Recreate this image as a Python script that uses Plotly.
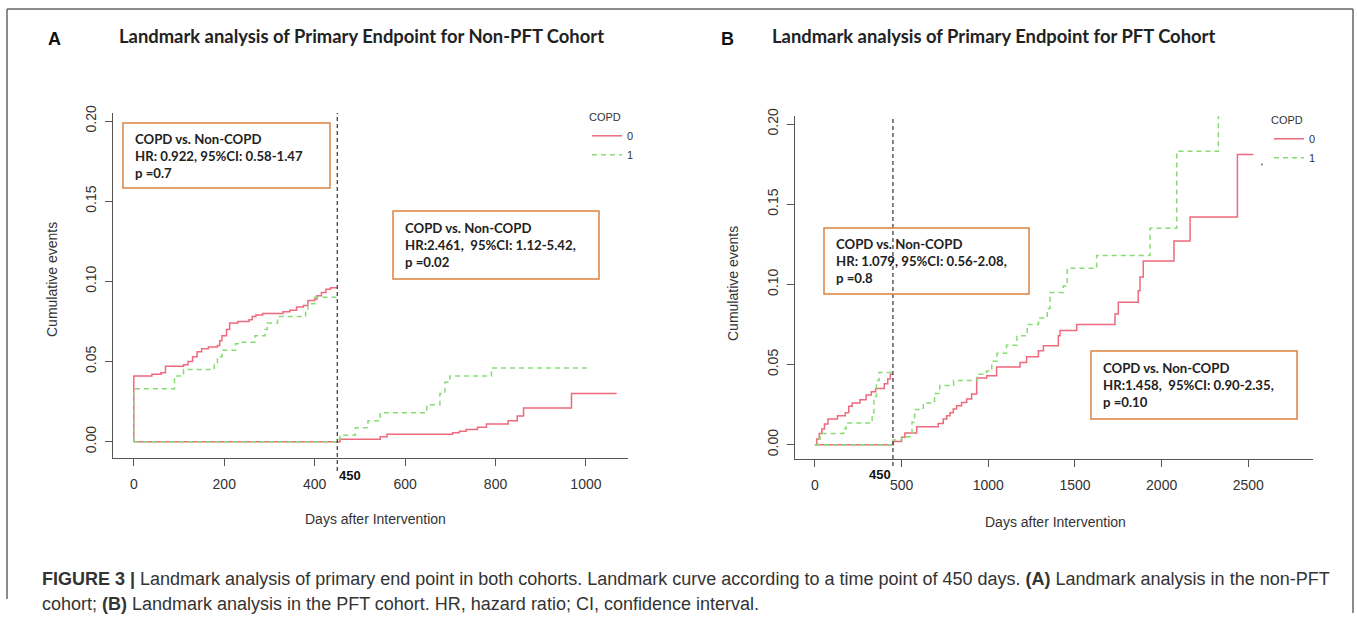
import plotly.graph_objects as go

W, H = 1357, 623
LANDMARK = 450

# ---------------- data ----------------
# Panel A: Non-PFT cohort
a_pre_red_days = [0, 0, 40, 60, 70, 110, 120, 130, 140, 150, 165, 185, 190, 195, 205, 212, 230, 255, 262,
                  270, 285, 330, 345, 360, 375, 385, 400, 405, 415, 425, 435, 450]
a_pre_red_vals = [0, 0.041, 0.042, 0.043, 0.047, 0.048, 0.050, 0.053, 0.056, 0.058, 0.059, 0.060, 0.063,
                  0.066, 0.070, 0.074, 0.075, 0.076, 0.078, 0.079, 0.080, 0.081, 0.082, 0.084, 0.085, 0.088,
                  0.089, 0.091, 0.093, 0.095, 0.096, 0.096]
a_pre_green_days = [0, 0, 90, 110, 178, 185, 195, 225, 240, 268, 290, 295, 318, 380, 385, 400, 450]
a_pre_green_vals = [0, 0.033, 0.041, 0.045, 0.049, 0.053, 0.057, 0.061, 0.062, 0.066, 0.070, 0.074, 0.078,
                    0.082, 0.086, 0.090, 0.090]
a_post_red_days = [0, 456, 545, 560, 705, 720, 735, 760, 780, 828, 848, 862, 968, 1068]
a_post_red_vals = [0, 0.0015, 0.003, 0.0046, 0.0055, 0.0065, 0.0075, 0.009, 0.011, 0.013, 0.016, 0.021,
                   0.030, 0.030]
a_post_green_days = [0, 452, 456, 490, 518, 545, 648, 677, 688, 699, 791, 1005]
a_post_green_vals = [0, 0.0015, 0.004, 0.0087, 0.013, 0.018, 0.023, 0.030, 0.037, 0.041, 0.046, 0.046]

# Panel B: PFT cohort
b_pre_red_days = [0, 10, 25, 40, 55, 75, 130, 175, 195, 215, 260, 295, 325, 350, 400, 420, 435, 450]
b_pre_red_vals = [0, 0.0035, 0.007, 0.0098, 0.013, 0.016, 0.018, 0.020, 0.024, 0.026, 0.028, 0.031, 0.033,
                  0.035, 0.038, 0.041, 0.044, 0.044]
b_pre_green_days = [0, 15, 30, 165, 180, 330, 340, 355, 370, 450]
b_pre_green_vals = [0, 0.0035, 0.007, 0.010, 0.0135, 0.020, 0.030, 0.040, 0.045, 0.045]
b_post_red_days = [0, 452, 500, 519, 587, 711, 740, 760, 779, 798, 817, 846, 875, 904, 933, 991, 1048, 1183,
                   1221, 1289, 1318, 1404, 1414, 1510, 1731, 1750, 1865, 1875, 1894, 2071, 2164, 2437, 2529]
b_post_red_vals = [0, 0.002, 0.0046, 0.0073, 0.0112, 0.0133, 0.016, 0.018, 0.020, 0.0223, 0.0243, 0.0264,
                   0.0285, 0.0316, 0.0416, 0.043, 0.0485, 0.0513, 0.0549, 0.0586, 0.0618, 0.068, 0.0713,
                   0.0749, 0.0816, 0.0889, 0.096, 0.1046, 0.1146, 0.127, 0.142, 0.181, 0.181]
b_post_green_days = [0, 452, 500, 560, 575, 625, 690, 720, 800, 935, 990, 1020, 1050, 1105, 1165, 1225, 1290,
                     1340, 1356, 1432, 1455, 1625, 1933, 2087, 2327]
b_post_green_vals = [0, 0.003, 0.005, 0.014, 0.022, 0.026, 0.032, 0.037, 0.040, 0.044, 0.046, 0.052, 0.057,
                     0.062, 0.068, 0.075, 0.079, 0.085, 0.095, 0.099, 0.110, 0.118, 0.135, 0.183, 0.23]
b_censor_days = [2578]
b_censor_vals = [0.1747]

a_xticks = [0, 200, 400, 600, 800, 1000]
b_xticks = [0, 500, 1000, 1500, 2000, 2500]
yticks = [0.00, 0.05, 0.10, 0.15, 0.20]

titles = ["Landmark analysis of Primary Endpoint for Non-PFT Cohort",
          "Landmark analysis of Primary Endpoint for PFT Cohort"]
panel_letters = ["A", "B"]
box_texts = [
    "COPD vs. Non-COPD<br>HR: 0.922, 95%CI: 0.58-1.47<br>p =0.7",
    "COPD vs. Non-COPD<br>HR:2.461,  95%CI: 1.12-5.42,<br>p =0.02",
    "COPD vs. Non-COPD<br>HR: 1.079, 95%CI: 0.56-2.08,<br>p =0.8",
    "COPD vs. Non-COPD<br>HR:1.458,  95%CI: 0.90-2.35,<br>p =0.10",
]
caption_lines = [
    "<b>FIGURE 3 |</b> Landmark analysis of primary end point in both cohorts. Landmark curve according to a "
    "time point of 450 days. <b>(A)</b> Landmark analysis in the non-PFT",
    "cohort; <b>(B)</b> Landmark analysis in the PFT cohort. HR, hazard ratio; CI, confidence interval.",
]

RED = "#EE6A7C"
GREEN = "#86DB74"
AXC = "#555555"
TXT = "#333333"
ORANGE = "#D9823F"
GDASH = "5px,4px"


def px_x(p):
    return p / W


def px_y(p):
    # vertical placement calibrated against the rendered page
    return 1 - (p - 7) / 615


fig = go.Figure()


def add_curve(xs, ys, color, dash, xa, ya, name, legend, show):
    fig.add_trace(go.Scatter(x=xs, y=ys, mode="lines", line=dict(color=color, width=1.5, dash=dash,
                                                                   shape="hv"),
                             xaxis=xa, yaxis=ya, name=name, legend=legend, showlegend=show,
                             hoverinfo="skip"))


add_curve(a_post_red_days, a_post_red_vals, RED, "solid", "x", "y", "0", "legend", True)
add_curve(a_post_green_days, a_post_green_vals, GREEN, GDASH, "x", "y", "1", "legend", True)
add_curve(a_pre_red_days, a_pre_red_vals, RED, "solid", "x", "y", "0", "legend", False)
add_curve(a_pre_green_days, a_pre_green_vals, GREEN, GDASH, "x", "y", "1", "legend", False)

add_curve(b_post_red_days, b_post_red_vals, RED, "solid", "x2", "y2", "0", "legend2", True)
add_curve(b_post_green_days, b_post_green_vals, GREEN, GDASH, "x2", "y2", "1", "legend2", True)
add_curve(b_pre_red_days, b_pre_red_vals, RED, "solid", "x2", "y2", "0", "legend2", False)
add_curve(b_pre_green_days, b_pre_green_vals, GREEN, GDASH, "x2", "y2", "1", "legend2", False)
fig.add_trace(go.Scatter(x=b_censor_days, y=b_censor_vals, mode="markers",
                         marker=dict(color="#777777", size=2), xaxis="x2", yaxis="y2",
                         showlegend=False, hoverinfo="skip"))

tickfont = dict(family="Liberation Sans, Arial, sans-serif", size=14, color=TXT)
common_x = dict(showline=True, linecolor=AXC, linewidth=1.3, ticks="outside", ticklen=7,
                tickcolor=AXC, tickwidth=1.3, showgrid=False, zeroline=False, tickfont=tickfont,
                ticklabelstandoff=6, fixedrange=True)
common_y = dict(showline=True, linecolor=AXC, linewidth=1.3, ticks="outside", ticklen=7,
                tickcolor=AXC, tickwidth=1.3, showgrid=False, zeroline=False, tickfont=tickfont,
                tickangle=-90, tickvals=yticks, ticktext=[f"{v:.2f}" for v in yticks],
                ticklabelstandoff=3, fixedrange=True)
legfont = dict(family="Liberation Sans", size=11, color=TXT)

fig.update_layout(
    width=W, height=H, margin=dict(l=0, r=0, t=0, b=0), autosize=False,
    paper_bgcolor="white", plot_bgcolor="white",
    xaxis=dict(domain=[px_x(113), px_x(628)], range=[-46, 1093], tickvals=a_xticks, anchor="y", **common_x),
    yaxis=dict(domain=[px_y(457), px_y(112)], range=[-0.0102, 0.205], anchor="x", **common_y),
    xaxis2=dict(domain=[px_x(795), px_x(1313)], range=[-115, 2873], tickvals=b_xticks, anchor="y2",
                **common_x),
    yaxis2=dict(domain=[px_y(458), px_y(115)], range=[-0.0089, 0.205], anchor="x2", **common_y),
    legend=dict(x=px_x(587), y=px_y(106), xanchor="left", yanchor="top", bgcolor="rgba(0,0,0,0)",
                title=dict(text="COPD", font=legfont), font=legfont, itemwidth=30, tracegroupgap=0),
    legend2=dict(x=px_x(1269), y=px_y(109), xanchor="left", yanchor="top", bgcolor="rgba(0,0,0,0)",
                 title=dict(text="COPD", font=legfont), font=legfont, itemwidth=30, tracegroupgap=0),
)

shapes = []
# landmark lines
shapes.append(dict(type="line", xref="x", yref="paper", x0=LANDMARK, x1=LANDMARK, y0=px_y(470), y1=px_y(112),
                   line=dict(color="#333333", width=1.2, dash="4px,3px")))
shapes.append(dict(type="line", xref="x2", yref="paper", x0=LANDMARK, x1=LANDMARK, y0=px_y(465),
                   y1=px_y(115), line=dict(color="#333333", width=1.2, dash="4px,3px")))
# outer frame
for (x0, y0, x1, y1) in [(7, 8, 1353, 8), (7, 8, 7, 598), (1353, 8, 1353, 612)]:
    shapes.append(dict(type="line", xref="paper", yref="paper", x0=px_x(x0), x1=px_x(x1), y0=px_y(y0),
                       y1=px_y(y1), line=dict(color="#666666", width=1.5)))
# stat boxes
box_px = [(123, 122, 330, 187), (393, 210, 599, 278), (824, 227, 1029, 293), (1091, 350, 1297, 418)]
for (x0, y0, x1, y1) in box_px:
    shapes.append(dict(type="rect", xref="paper", yref="paper", x0=px_x(x0), x1=px_x(x1), y0=px_y(y1),
                       y1=px_y(y0), line=dict(color=ORANGE, width=1.5), fillcolor="rgba(255,255,255,0)"))
fig.update_layout(shapes=shapes)

ann = []
boxfont = dict(family="Lato, sans-serif", size=13.2, color="#222222")
for (x0, y0, x1, y1), t in zip(box_px, box_texts):
    ann.append(dict(text="<b>" + t.replace("<br>", "</b><br><b>") + "</b>", xref="paper", yref="paper",
                    x=px_x(x0 + 10), y=px_y((y0 + y1) / 2), xanchor="left", yanchor="middle", align="left",
                    showarrow=False, font=boxfont))
# titles
for letter, title, lx, tx in zip(panel_letters, titles, [46, 719], [117, 770]):
    ann.append(dict(text=f"<b>{letter}</b>", xref="paper", yref="paper", x=px_x(lx), y=px_y(38),
                    xanchor="left", yanchor="middle", showarrow=False,
                    font=dict(family="Liberation Sans, Arial", size=18, color="#111111")))
    ann.append(dict(text=f"<b>{title}</b>", xref="paper", yref="paper", x=px_x(tx), y=px_y(35),
                    xanchor="left", yanchor="middle", showarrow=False,
                    font=dict(family="Lato, sans-serif", size=18.4, color="#222222")))
# axis titles
for x, y in [(375, 518), (1055, 521)]:
    ann.append(dict(text="Days after Intervention", xref="paper", yref="paper", x=px_x(x), y=px_y(y),
                    xanchor="center", yanchor="middle", showarrow=False, font=tickfont))
for x, y in [(52, 279), (733, 283)]:
    ann.append(dict(text="Cumulative events", xref="paper", yref="paper", x=px_x(x), y=px_y(y),
                    xanchor="center", yanchor="middle", textangle=-90, showarrow=False, font=tickfont))
# landmark labels
ann.append(dict(text="<b>450</b>", xref="x", yref="paper", x=LANDMARK, y=px_y(474), xanchor="left",
                yanchor="middle", showarrow=False,
                font=dict(family="Liberation Sans, Arial", size=13, color="#111111")))
ann.append(dict(text="<b>450</b>", xref="x2", yref="paper", x=LANDMARK, y=px_y(473), xanchor="right",
                yanchor="middle", showarrow=False,
                font=dict(family="Liberation Sans, Arial", size=13, color="#111111")))
# caption
for line, y in zip(caption_lines, [578, 603]):
    ann.append(dict(text=line, xref="paper", yref="paper", x=px_x(40), y=px_y(y), xanchor="left",
                    yanchor="middle", showarrow=False,
                    font=dict(family="Liberation Sans, Arial", size=18, color="#333333")))
fig.update_layout(annotations=ann)

fig.write_html("out.html", config={"displayModeBar": False, "responsive": False},
               post_script="document.body.style.margin='0';document.body.style.overflow='hidden';")
